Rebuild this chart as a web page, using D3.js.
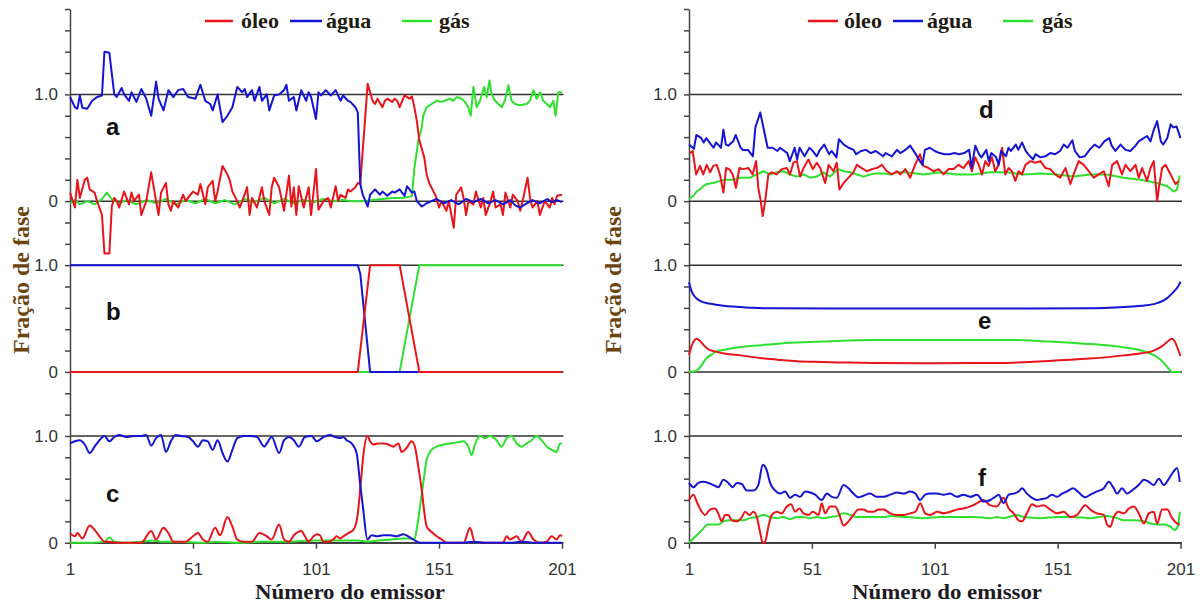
<!DOCTYPE html>
<html>
<head>
<meta charset="utf-8">
<script src="https://cdn.jsdelivr.net/npm/d3@7"></script>
<style>
html, body { margin: 0; padding: 0; background: #fff; }
svg { display: block; }
</style>
</head>
<body>
<script>
/* Fração de fase por emissor: painéis a-c (esquerda) e d-f (direita) */

var emitterTicks = [1, 51, 101, 151, 201];
var phases = ["óleo", "água", "gás"];
var phaseColors = {"óleo": "#e8141a", "água": "#1414d2", "gás": "#2ee02e"};
// stacked y axis: each subplot has its own 0 and 1.0
var yTickLabels = [[0, "0"], [1, "1.0"], [1.6, "0"], [2.6, "1.0"], [3.2, "0"], [4.2, "1.0"]];

// ---- a ----
var aOleo = [[1,.08],[3,-.06],[4,.20],[5,.03],[7,.20],[8,.22],[9,.11],[11,.08],[12,0],[14,-.13],[15,-.49],[17,-.49],
  [18,-.05],[19,.03],[20,0],[21,-.06],[23,.09],[25,-.03],[26,.08],[27,0],[29,.06],[30,-.13],[32,0],[34,.27],[36,0],
  [37,-.13],[38,.08],[40,.17],[41,-.03],[42,-.09],[43,0],[45,-.06],[47,.06],[48,0],[50,.06],[51,.09],[53,.06],[54,.16],
  [56,-.03],[57,.13],[59,.19],[60,0],[61,.09],[63,.33],[65,.25],[66,.19],[67,.09],[69,0],[70,-.06],[71,0],[73,.13],
  [74,-.13],[75,.03],[77,-.06],[79,.13],[80,0],[82,-.13],[83,.13],[84,.22],[86,.13],[88,-.09],[90,.24],[91,-.05],
  [92,.13],[93,-.13],[94,.14],[96,-.06],[98,.13],[99,-.13],[101,.30],[102,-.08],[104,0],[106,.03],[107,-.06],[109,.14],
  [110,0],[111,.06],[113,.03],[114,.11],[115,.09],[117,.13],[118,.17],[119,.16],[122,1.10],[124,.94],[125,.91],[126,.96],
  [128,.88],[129,.94],[130,.96],[132,.93],[133,.96],[134,.94],[135,.88],[137,.99],[139,.96],[140,.98],[141,.88],[142,.75],
  [143,.57],[145,.41],[146,.25],[147,.17],[149,.08],[150,.03],[151,-.06],[152,0],[154,-.09],[155,0],[157,-.25],[158,.06],
  [160,.13],[161,.03],[162,-.13],[163,0],[165,-.03],[166,.09],[168,-.06],[169,.03],[170,-.13],[172,0],[173,.09],[174,-.06],
  [176,-.03],[177,-.13],[178,.08],[180,-.06],[181,.06],[183,0],[184,-.09],[185,0],[187,.22],[188,.03],[189,-.06],[191,0],
  [192,-.13],[194,0],[196,-.06],[197,.03],[198,-.03],[199,.05],[201,.06]];
var aAgua = [[1,.975],[3,.88],[4,.865],[5,.99],[6,.875],[8,.865],[10,.94],[12,.975],[14,.99],[15,1.40],[17,1.39],[19,1.0],
  [20,.975],[22,1.06],[23,1.0],[25,.94],[26,1.02],[28,.93],[30,1.05],[32,.96],[34,.80],[36,1.12],[37,.96],[39,.85],
  [41,1.04],[43,.975],[45,1.04],[47,1.05],[49,.975],[52,.96],[54,1.09],[56,.94],[58,.91],[59,.85],[61,1.0],[63,.74],
  [65,.80],[67,.88],[69,1.07],[71,1.02],[72,1.05],[73,.975],[75,1.04],[76,.94],[78,1.07],[79,.94],[81,1.0],[82,.85],
  [84,.99],[86,1.0],[88,1.04],[89,1.09],[90,.94],[92,.975],[93,.85],[95,1.04],[97,.94],[98,1.02],[99,.975],[101,.77],
  [102,1.02],[103,.99],[105,1.04],[107,.99],[109,1.04],[111,.94],[112,.99],[114,.94],[115,.93],[117,.88],[118,.83],
  [119,.16],[120,.06],[122,-.05],[123,.06],[125,.11],[127,.06],[128,.09],[130,.05],[132,.09],[133,.08],[135,.11],
  [137,.05],[138,.14],[140,.08],[141,.09],[142,0],[144,-.05],[146,-.02],[148,0],[150,.02],[153,-.02],[156,.01],
  [159,-.03],[162,.02],[165,-.01],[168,.02],[171,-.02],[174,.01],[177,-.03],[180,.01],[182,-.04],[184,-.06],[186,-.03],
  [189,.01],[192,-.02],[195,.02],[197,-.01],[199,.01],[201,-.01]];
var aGas = [[1,-.02],[3,.01],[5,-.03],[8,0],[11,-.03],[14,.02],[16,.08],[18,.02],[21,-.02],[24,.01],[28,-.03],[32,.01],
  [36,-.02],[40,.02],[44,-.03],[48,.01],[52,-.02],[56,.02],[60,-.02],[64,.01],[68,-.03],[72,.02],[76,-.01],[80,.03],
  [84,-.02],[88,.02],[92,-.02],[96,.01],[100,-.01],[104,.02],[108,0],[112,.01],[116,0],[120,0],[124,.01],[128,.02],
  [132,.03],[136,.03],[139,.04],[140,.05],[141,.31],[142.6,.57],[144,.69],[144.6,.80],[146,.88],[148,.91],[150,.94],
  [152,.93],[153.4,.94],[155.5,.96],[156.8,.94],[158.2,.975],[160.2,.96],[161.6,.93],[162.9,.88],[163.9,.80],[165,1.07],
  [166.3,.88],[167.7,.94],[169.3,1.07],[170.4,.975],[171.5,1.13],[172.4,1.0],[173.8,.94],[175.1,.91],[176.5,.88],
  [177.8,.94],[179.2,1.085],[180.5,.94],[181.9,.91],[183.3,.90],[184.6,.90],[186.6,.91],[188,.94],[189.4,1.04],
  [190.7,.96],[192.1,1.02],[193.4,.94],[194.8,.91],[196.1,.88],[197.5,.94],[198.4,.80],[199.5,1.02],[201,1.02]];

// ---- b ----
var bOleo = [[1,0],[118,0],[123,1],[135,1],[143,0],[201,0]];
var bAgua = [[1,1],[118,1],[119,.92],[123,0],[201,0]];
var bGas = [[1,0],[135,0],[143,1],[201,1]];

// ---- c ----
var cOleo = [[1,.09],[3,.06],[4,.09],[6,.04],[9,.16],[11,.12],[13,.06],[15,.01],[17,.01],[20,0],[25,0],[30,0],[34,.11],
  [36,.03],[39,.14],[41,.09],[43,.01],[46,.01],[48,.01],[51,.06],[53,.09],[55,.03],[57,.01],[60,.14],[62,.07],[65,.24],
  [67,.15],[69,.03],[71,.01],[75,.01],[78,.09],[81,.06],[83,.03],[86,.17],[88,.03],[90,.01],[92,.07],[95,.11],[96.5,.06],
  [98,.01],[100,.06],[101.3,.08],[102.6,.07],[104,.01],[106,.01],[108,.03],[109.4,.06],[110.8,.04],[112.1,.06],
  [114.1,.09],[116.2,.12],[117.8,.24],[119.2,.56],[120.2,.81],[121.9,1.0],[123,.95],[124.3,.92],[126.3,.93],[128.4,.93],
  [130.4,.92],[132.4,.90],[134.5,.93],[135.8,.85],[137.9,.89],[139.9,.95],[141.2,.90],[142.6,.71],[144,.49],[144.9,.31],
  [146,.15],[148,.10],[150.1,.06],[152.1,.03],[154.1,0],[161,0],[163.6,.14],[165.5,.01],[170,0],[177,0],[178.5,.06],
  [179.9,.03],[182.6,.06],[184.5,.01],[187.3,.10],[189.4,.03],[192,0],[194.8,.01],[196.8,.06],[198.8,.03],[200.2,.07],
  [201,.06]];
var cAgua = [[1,.93],[3,.95],[5,.96],[7,.92],[9,.84],[11,.90],[13,.96],[15,1.0],[17,.95],[19,.99],[21,1.01],[24,.99],
  [27,1.0],[30,1.0],[32,1.01],[34,.91],[36,.98],[38,1.01],[40,.85],[42,.95],[44,1.01],[46,1.0],[49,.99],[51,.95],
  [53,.90],[55,.96],[57,.95],[59,.87],[61,.96],[63,.84],[65,.76],[67,.87],[69,.98],[72,1.0],[74,1.0],[77,.99],[80,.90],
  [81,.93],[83,.99],[86,.84],[88,.96],[90,.99],[92,.96],[94,.90],[96.5,.99],[99.2,1.0],[101.3,.95],[104,.99],
  [106.7,1.01],[108.7,.99],[110.8,.98],[112.1,.99],[113.5,.96],[115.5,.93],[117.5,.84],[118.9,.56],[120.2,.31],
  [121.9,.03],[123.6,.07],[125.7,.06],[128.4,.07],[131.1,.07],[133.8,.06],[136.5,.08],[138.5,.06],[140.6,.03],
  [143.3,0],[150,0],[160,0],[165,.01],[170,0],[180,0],[185,.01],[190,0],[201,0]];
var cGas = [[1,0],[10,0],[15,.01],[17,.05],[19,.01],[25,0],[30,.01],[35,.02],[38,.01],[45,.01],[55,0],[60,.01],[70,0],
  [80,.01],[90,.01],[100,.02],[110,.02],[118,.02],[122,.01],[126,.02],[132,.03],[136,.04],[139,.04],[141,.03],
  [141.9,.12],[143.3,.34],[144.6,.56],[146,.78],[148,.87],[150.1,.90],[152.8,.92],[155.5,.93],[158.2,.94],[160.9,.95],
  [162.9,.90],[164.3,.82],[165.6,.92],[167.7,1.0],[169.7,.98],[171.7,1.0],[174.4,.96],[176.5,.90],[178.5,.98],
  [180.5,1.0],[182.6,.93],[184.6,.90],[186.6,.93],[188.7,.96],[190.7,1.0],[192.7,.96],[194.8,.90],[196.8,.87],
  [198.8,.85],[200.2,.93],[201,.93]];

// ---- d ----
var dOleo = [[1.4,.45],[2.5,.47],[3.9,.25],[5.5,.33],[6.8,.25],[8.2,.34],[9.6,.27],[10.9,.33],[12.3,.34],[13.6,.25],
  [15,.08],[16.1,.31],[17.4,.30],[18.8,.25],[20.1,.125],[21.5,.31],[23.1,.30],[25.2,.31],[26.9,.25],[28.3,.375],
  [29.2,.125],[30.2,0],[31,-.14],[32,0],[33.3,.25],[34.7,.27],[36.7,.25],[38.7,.30],[40.8,.31],[42.1,.25],[43.5,.36],
  [44.9,.375],[46.2,.23],[47.6,.31],[49.6,.39],[51.4,.30],[53,.36],[54.4,.31],[56.4,.17],[57.8,.34],[59.8,.28],
  [61.1,.36],[62.2,.11],[63.9,.17],[65.9,.22],[67.9,.27],[69.3,.34],[71.3,.31],[73.4,.28],[75.4,.30],[77.4,.31],
  [79.5,.34],[81.5,.28],[83.6,.25],[85.6,.28],[87,.25],[89,.30],[91,.22],[93,.34],[95,.44],[96.4,.33],[98.5,.31],
  [100.5,.28],[102.6,.30],[104.6,.25],[106.6,.30],[108.7,.30],[110.7,.34],[112.7,.31],[114.8,.375],[116.1,.28],
  [117.5,.41],[118.9,.34],[120.2,.25],[121.6,.375],[122.9,.33],[124.3,.41],[125.6,.28],[127,.34],[128.4,.50],
  [129.7,.25],[131.1,.31],[132.4,.28],[133.8,.19],[135.1,.28],[136.5,.25],[137.9,.34],[139.9,.375],[141.9,.36],
  [144,.375],[146,.31],[148,.30],[150,.25],[152,.22],[154.2,.31],[156.2,.16],[157.5,.25],[159.6,.375],[161.6,.34],
  [163.7,.28],[165.7,.22],[167.7,.25],[169.8,.28],[171.8,.14],[173.2,.34],[175.2,.375],[177.2,.25],[178.6,.34],
  [180.6,.28],[182.7,.34],[184,.22],[185.4,.31],[187.4,.19],[188.8,.31],[190.1,.375],[191.5,0],[192.2,.125],
  [193.5,.31],[194.9,.34],[196.3,.28],[197.6,.22],[199,.16],[200.3,.19]];
var dAgua = [[1,.53],[3,.49],[4,.62],[6,.59],[7,.55],[8,.59],[10,.53],[11,.50],[12,.55],[14,.50],[15,.67],[16,.53],
  [17,.52],[19,.56],[20,.62],[22,.50],[23,.48],[25,.48],[27,.42],[28,.69],[30,.83],[31,.72],[33,.50],[35,.50],[37,.47],
  [38,.50],[41,.45],[42,.375],[44,.50],[45,.39],[46,.50],[48,.42],[50,.50],[51,.48],[53,.42],[54,.47],[56,.53],[58,.44],
  [59,.47],[61,.41],[62,.58],[64,.53],[66,.50],[68,.48],[69,.44],[71,.47],[73,.48],[75,.45],[77,.47],[80,.42],[81,.45],
  [83.6,.42],[85.6,.48],[87,.45],[89,.48],[91,.52],[93,.45],[94,.41],[96,.34],[97,.48],[99,.50],[101,.47],[103,.45],
  [105,.44],[107,.44],[109,.45],[111,.44],[113,.45],[115,.48],[116,.31],[117.5,.52],[119,.44],[120,.41],[122,.48],
  [123,.375],[124,.45],[126,.41],[127,.34],[128,.47],[130,.42],[131,.50],[132,.47],[134,.53],[135,.48],[136.5,.55],
  [138,.47],[139,.44],[141,.39],[142,.44],[144,.41],[146,.42],[148,.45],[150,.44],[152,.47],[153.5,.53],[155,.50],
  [157,.57],[158,.47],[160,.41],[162,.42],[164,.48],[166,.53],[168,.50],[170,.56],[172,.59],[173,.52],[174.5,.47],
  [176.6,.53],[178.6,.48],[180.6,.47],[182.7,.52],[184,.56],[185.4,.58],[187.4,.61],[188.8,.56],[190,.66],[191.5,.75],
  [193,.56],[194,.53],[195.6,.59],[197,.72],[198,.69],[199.4,.70],[201,.59]];
var dGas = [[1,.02],[2.8,.05],[4.1,.09],[5.5,.11],[6.8,.14],[8.2,.16],[10.9,.17],[13.6,.19],[16.3,.20],[19.1,.20],
  [21.8,.22],[25.8,.22],[28.6,.25],[31.3,.28],[34,.25],[36.7,.27],[39.4,.28],[42.1,.25],[44.9,.23],[47.6,.25],
  [50.3,.22],[53,.23],[55.7,.27],[58.4,.23],[61.8,.30],[63.9,.28],[66.6,.27],[69.3,.25],[72,.23],[74.7,.25],[77.4,.26],
  [80.2,.26],[82.9,.25],[85.6,.27],[89.7,.27],[96.4,.25],[103.2,.27],[110,.25],[116.8,.25],[123.6,.27],[130.4,.27],
  [137.2,.25],[144,.26],[150.8,.25],[157.5,.23],[164.3,.25],[171.1,.25],[177.9,.22],[184.7,.20],[191.5,.17],
  [195.6,.14],[198.3,.09],[199.6,.11],[200.7,.24]];

// ---- e ----
var eOleo = [[1,.16],[2,.24],[3,.29],[4,.31],[5,.30],[7,.25],[9,.21],[12,.19],[16,.17],[22,.155],[30,.13],[37,.115],
  [45,.10],[55,.093],[65,.088],[76,.084],[100,.082],[127,.084],[145,.10],[164,.125],[178,.155],[185,.175],[189,.19],
  [192,.22],[194,.25],[196,.29],[197.5,.31],[199,.27],[200,.21],[201,.15]];
var eAgua = [[1,.84],[2,.76],[4,.69],[6,.66],[9,.64],[12,.63],[15,.62],[20,.61],[27,.60],[36,.596],[60,.595],[100,.595],
  [140,.595],[165,.596],[172,.60],[180,.61],[185,.62],[190,.635],[194,.667],[196,.70],[198,.745],[200,.80],[201,.845]];
var eGas = [[1,0],[4,.01],[6,.06],[8,.125],[10,.16],[12,.19],[16,.21],[22,.233],[30,.25],[37,.264],[45,.275],[56,.286],
  [66,.294],[76,.30],[100,.30],[130,.30],[140,.295],[151,.28],[162,.265],[171,.25],[178,.23],[185,.20],[188,.18],
  [191.5,.14],[194,.09],[195.6,.046],[197.6,0],[201,0]];

// ---- f ----
var fOleo = [[1,.40],[2.8,.45],[4.4,.37],[6.2,.29],[7.5,.26],[9.6,.31],[11.6,.32],[12.9,.275],[14.3,.20],[15.7,.26],
  [17,.26],[18.4,.21],[20.4,.20],[22.5,.24],[23.8,.29],[25.6,.26],[27.2,.29],[28.6,.24],[29.9,.10],[31,0],[32,.01],
  [33.3,.15],[34.7,.26],[36.7,.29],[38.7,.275],[40.8,.34],[42.5,.36],[44.2,.29],[45.9,.32],[47.6,.275],[49.6,.26],
  [51.4,.29],[53.7,.26],[55,.37],[56.4,.275],[58.4,.34],[60.5,.34],[62.2,.26],[63.9,.16],[65.9,.20],[67.9,.26],[70,.31],
  [72,.31],[74,.29],[76.1,.29],[78.1,.31],[80.2,.31],[82.9,.275],[85.6,.26],[88.3,.26],[91,.275],[93.1,.29],[95.1,.37],
  [97.1,.275],[99.2,.26],[101.9,.29],[104.6,.275],[107.3,.29],[110,.31],[112.7,.32],[115.5,.34],[118.2,.37],[120.9,.40],
  [123.6,.35],[126.3,.34],[129,.42],[131.1,.32],[133.1,.275],[135.1,.21],[136.5,.20],[138.5,.275],[140.6,.36],
  [142.6,.34],[145.3,.35],[148,.31],[150.8,.275],[153.5,.29],[156.2,.24],[158.9,.26],[162.3,.35],[164.3,.31],[167,.275],
  [169.8,.26],[171.1,.17],[172.5,.15],[173.8,.24],[175.9,.29],[177.9,.275],[180,.32],[182,.34],[184,.275],[186.1,.18],
  [188.1,.275],[190.1,.29],[191.5,.18],[193.5,.31],[195.6,.31],[197.6,.23],[199.6,.18],[200.7,.17]];
var fAgua = [[1,.56],[2.8,.52],[4.8,.56],[6.8,.57],[8.9,.56],[10.9,.54],[12.9,.52],[15,.59],[17,.56],[18.8,.52],
  [20.4,.56],[22.5,.55],[24.5,.49],[27.2,.49],[29.2,.54],[31,.73],[32.6,.68],[34,.56],[36,.49],[38.1,.46],[40.1,.48],
  [42.1,.42],[44.2,.45],[46.2,.43],[48.3,.48],[50.3,.47],[52.3,.45],[55,.40],[57.1,.46],[59.1,.43],[61.1,.42],[63.9,.54],
  [65.9,.51],[67.9,.46],[70,.425],[72,.44],[74.7,.46],[77.4,.43],[80.2,.43],[82.9,.45],[85.6,.47],[88.3,.46],[91,.48],
  [93.1,.46],[95.1,.40],[97.1,.45],[99.2,.46],[101.9,.46],[104.6,.45],[107.3,.46],[110,.43],[112.7,.45],[115.5,.43],
  [118.2,.45],[120.9,.385],[123.6,.40],[125.6,.43],[127,.45],[129,.37],[131.1,.45],[133.1,.46],[135.1,.48],[136.5,.51],
  [138.5,.46],[140.6,.42],[142.6,.40],[144.6,.41],[146.7,.42],[148.7,.45],[150.8,.43],[152.8,.46],[154.8,.48],
  [157.3,.51],[159.6,.47],[162.3,.425],[164.3,.45],[167,.48],[169.8,.51],[171.8,.57],[173.6,.52],[175.2,.46],[177.2,.51],
  [179.3,.46],[181.3,.49],[184,.54],[186.1,.59],[188.1,.57],[190.1,.54],[192.2,.60],[194.2,.54],[196.3,.60],[198.3,.67],
  [199.6,.70],[200.7,.57]];
var fGas = [[1,0],[2.8,.04],[5.5,.10],[8.9,.17],[12.9,.17],[15,.20],[17.7,.21],[23.1,.21],[25.8,.23],[28.6,.24],
  [31.3,.26],[34,.24],[36.7,.23],[39.4,.24],[42.1,.22],[44.9,.24],[47.6,.24],[50.3,.23],[53,.24],[55.7,.23],[58.4,.24],
  [61.1,.25],[63.9,.275],[66.6,.26],[69.3,.24],[72,.24],[74.7,.24],[77.4,.24],[80.2,.24],[82.9,.25],[89.7,.24],
  [96.4,.23],[103.2,.24],[110,.24],[116.8,.24],[123.6,.23],[126.3,.24],[129,.23],[134.5,.26],[137.2,.24],[144,.23],
  [150.8,.24],[157.5,.24],[164.3,.23],[171.1,.25],[175.2,.23],[177.9,.21],[181.9,.21],[186.1,.20],[188.8,.18],
  [191.5,.17],[194.2,.17],[196.9,.15],[198.6,.12],[199.9,.15],[200.7,.29]];

var width = 1204, height = 603;

var svg = d3.select("body").append("svg")
    .attr("width", width)
    .attr("height", height);

var y = d3.scaleLinear().domain([0, 5]).range([542.7, 9]);

var panels = [
    {x: d3.scaleLinear().domain([1, 201]).range([70, 562]), titleX: 21, xTitle: 350,
     legend: [[205, 233, 241], [290, 322, 326], [402, 432, 439]]},
    {x: d3.scaleLinear().domain([1, 201]).range([689, 1180.5]), titleX: 613, xTitle: 947,
     legend: [[808, 838, 844], [893, 923, 927], [1003, 1033, 1042]]}
];

var lin = d3.curveLinear, smooth = d3.curveMonotoneX;
var subplots = [
    {name: "a", panel: 0, base: 3.2, series: [aGas, aOleo, aAgua], keys: ["gás", "óleo", "água"], curve: lin, lx: 106, ly: 135},
    {name: "b", panel: 0, base: 1.6, series: [bGas, bAgua, bOleo], keys: ["gás", "água", "óleo"], curve: lin, lx: 106, ly: 320},
    {name: "c", panel: 0, base: 0, series: [cGas, cOleo, cAgua], keys: ["gás", "óleo", "água"], curve: smooth, lx: 106, ly: 502},
    {name: "d", panel: 1, base: 3.2, series: [dGas, dOleo, dAgua], keys: ["gás", "óleo", "água"], curve: lin, lx: 979, ly: 118},
    {name: "e", panel: 1, base: 1.6, series: [eGas, eOleo, eAgua], keys: ["gás", "óleo", "água"], curve: smooth, lx: 978, ly: 329},
    {name: "f", panel: 1, base: 0, series: [fGas, fOleo, fAgua], keys: ["gás", "óleo", "água"], curve: smooth, lx: 978, ly: 486}
];

var sansFont = "'Liberation Sans', Arial, Helvetica, sans-serif";
var serifFont = "'Liberation Serif', 'Times New Roman', serif";
var yTickValues = d3.range(26).map(function(i) { return i / 5; });

// reference lines at 0 and 1.0 of each subplot
subplots.forEach(function(s) {
    var x = panels[s.panel].x;
    [0, 1].forEach(function(v) {
        svg.append("line")
            .attr("x1", x.range()[0]).attr("x2", x.range()[1] + 1.5)
            .attr("y1", y(s.base + v)).attr("y2", y(s.base + v))
            .attr("stroke", "#333").attr("stroke-width", 1.5);
    });
});

// axes
panels.forEach(function(p) {
    var yAxis = d3.axisLeft(y)
        .tickValues(yTickValues)
        .tickSize(5).tickSizeOuter(0).tickPadding(7)
        .tickFormat(function(d) {
            var m = yTickLabels.find(function(l) { return Math.abs(l[0] - d) < 1e-6; });
            return m ? m[1] : "";
        });
    var gy = svg.append("g")
        .attr("transform", "translate(" + p.x.range()[0] + ",0)")
        .call(yAxis);

    var xAxis = d3.axisBottom(p.x)
        .tickValues(emitterTicks)
        .tickSize(6).tickSizeOuter(0).tickPadding(14);
    var gx = svg.append("g")
        .attr("transform", "translate(0," + y(0) + ")")
        .call(xAxis);

    [gy, gx].forEach(function(g) {
        g.attr("font-family", sansFont).attr("font-size", 17);
        g.selectAll("path, line").attr("stroke", "#444").attr("stroke-width", 1.5);
        g.selectAll("text").attr("fill", "#333");
    });

    svg.append("text")
        .attr("transform", "translate(" + p.titleX + "," + 280 + ") rotate(-90)")
        .attr("text-anchor", "middle").attr("dy", "0.35em")
        .attr("font-family", serifFont).attr("font-weight", "bold").attr("font-size", 24)
        .attr("fill", "#6a4510")
        .text("Fração de fase");

    svg.append("text")
        .attr("x", p.xTitle - 95).attr("y", 599)
        .attr("textLength", 190).attr("lengthAdjust", "spacingAndGlyphs")
        .attr("font-family", serifFont).attr("font-weight", "bold").attr("font-size", 22)
        .attr("fill", "#1c1a22")
        .text("Número do emissor");

    // legend
    phases.forEach(function(ph, i) {
        var L = p.legend[i];
        svg.append("line")
            .attr("x1", L[0]).attr("x2", L[1]).attr("y1", 21).attr("y2", 21)
            .attr("stroke", phaseColors[ph]).attr("stroke-width", 2.5);
        svg.append("text")
            .attr("x", L[2]).attr("y", 28)
            .attr("font-family", serifFont).attr("font-weight", "bold").attr("font-size", 22)
            .attr("fill", "#221a10")
            .text(ph);
    });
});

// data lines
subplots.forEach(function(s) {
    var x = panels[s.panel].x;
    var line = d3.line()
        .x(function(d) { return x(d[0]); })
        .y(function(d) { return y(s.base + d[1]); })
        .curve(s.curve);
    s.series.forEach(function(data, i) {
        svg.append("path")
            .datum(data)
            .attr("fill", "none")
            .attr("stroke", phaseColors[s.keys[i]])
            .attr("stroke-width", 2)
            .attr("stroke-linejoin", "round")
            .attr("d", line);
    });
    svg.append("text")
        .attr("x", s.lx).attr("y", s.ly)
        .attr("font-family", sansFont).attr("font-weight", "bold").attr("font-size", 24)
        .attr("fill", "#111")
        .text(s.name);
});
</script>
</body>
</html>
